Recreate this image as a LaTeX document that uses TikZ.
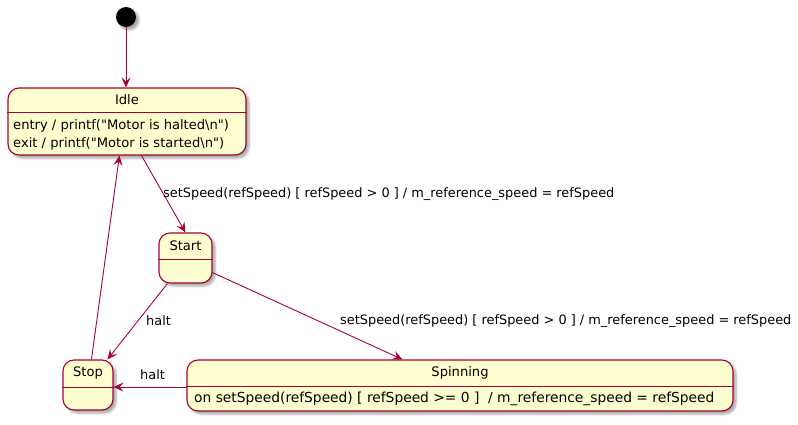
\documentclass[tikz,border=0pt]{standalone}
\usepackage{fontspec}
\setmainfont{DejaVu Sans}
\usetikzlibrary{arrows.meta,shadows.blur}
\definecolor{bord}{HTML}{A80036}
\definecolor{sfill}{HTML}{FEFECE}
\tikzset{
  statebox/.style={draw=bord, fill=sfill, line width=1.1pt, rounded corners=11pt, inner sep=0pt,
    blur shadow={shadow xshift=3pt, shadow yshift=-3pt, shadow blur steps=6, shadow opacity=35}},
  sep/.style={draw=bord, line width=1pt},
  txt/.style={inner sep=0pt, font=\fontsize{13.1}{15}\selectfont},
  arr/.style={draw=bord, line width=0.9pt, -{Stealth[length=10pt,width=9pt,inset=4pt]}},
  lbl/.style={inner sep=0pt, anchor=west, font=\fontsize{12.9}{15}\selectfont}
}
\begin{document}
\begin{tikzpicture}[x=1pt,y=-1pt]
\useasboundingbox (0,0) rectangle (798,425);
% initial
\node[circle, fill=black, minimum size=20pt, inner sep=0pt,
  blur shadow={shadow xshift=3pt, shadow yshift=-3pt, shadow blur steps=6, shadow opacity=35}] (init) at (126,17) {};
% Idle
\node[statebox, minimum width=238pt, minimum height=67pt] (idle) at (127,121.5) {};
\draw[sep] (idle.west |- 0,113) -- (idle.east |- 0,113);
\node[txt] (idlet) at (127,100) {Idle};
\node[txt, anchor=west] (idle1) at (13,126) {entry / printf(\textquotedbl Motor is halted\textbackslash n\textquotedbl)};
\node[txt, anchor=west] (idle2) at (13,144) {exit / printf(\textquotedbl Motor is started\textbackslash n\textquotedbl)};
% Start
\node[statebox, minimum width=53pt, minimum height=50pt] (start) at (185.5,258) {};
\draw[sep] (start.west |- 0,259) -- (start.east |- 0,259);
\node[txt] (startt) at (185.5,246) {Start};
% Stop
\node[statebox, minimum width=50pt, minimum height=50pt] (stop) at (88,385) {};
\draw[sep] (stop.west |- 0,387) -- (stop.east |- 0,387);
\node[txt] (stopt) at (88,373) {Stop};
% Spinning
\node[statebox, minimum width=546pt, minimum height=51pt] (spin) at (460,385.5) {};
\draw[sep] (spin.west |- 0,386) -- (spin.east |- 0,386);
\node[txt] (spint) at (460,373) {Spinning};
\node[txt, anchor=west, font=\fontsize{13.8}{15}\selectfont] (spin1) at (194,399) {on setSpeed(refSpeed) [ refSpeed >= 0 ]\ \ / m\_reference\_speed = refSpeed};
% edges
\draw[arr] (init) -- (idle.north -| init);
\draw[arr] ([xshift=134pt]idle.south west) -- ([xshift=27pt]start.north west);
\draw[arr] ([xshift=29pt]stop.north west) -- ([xshift=112pt]idle.south west);
\draw[arr] ([xshift=9pt]start.south west) -- ([xshift=45pt]stop.north west);
\draw[arr] ([yshift=11pt]start.south east) -- ([xshift=216pt]spin.north west);
\draw[arr] ([yshift=-1.5pt]spin.west) -- ([yshift=-2pt]stop.east);
% labels
\node[lbl] (l1) at (163,194) {setSpeed(refSpeed) [ refSpeed > 0 ] / m\_reference\_speed = refSpeed};
\node[lbl] (l2) at (340,321) {setSpeed(refSpeed) [ refSpeed > 0 ] / m\_reference\_speed = refSpeed};
\node[lbl] (l3) at (146,321) {halt};
\node[lbl] (l4) at (140,375) {halt};
\end{tikzpicture}
\end{document}
